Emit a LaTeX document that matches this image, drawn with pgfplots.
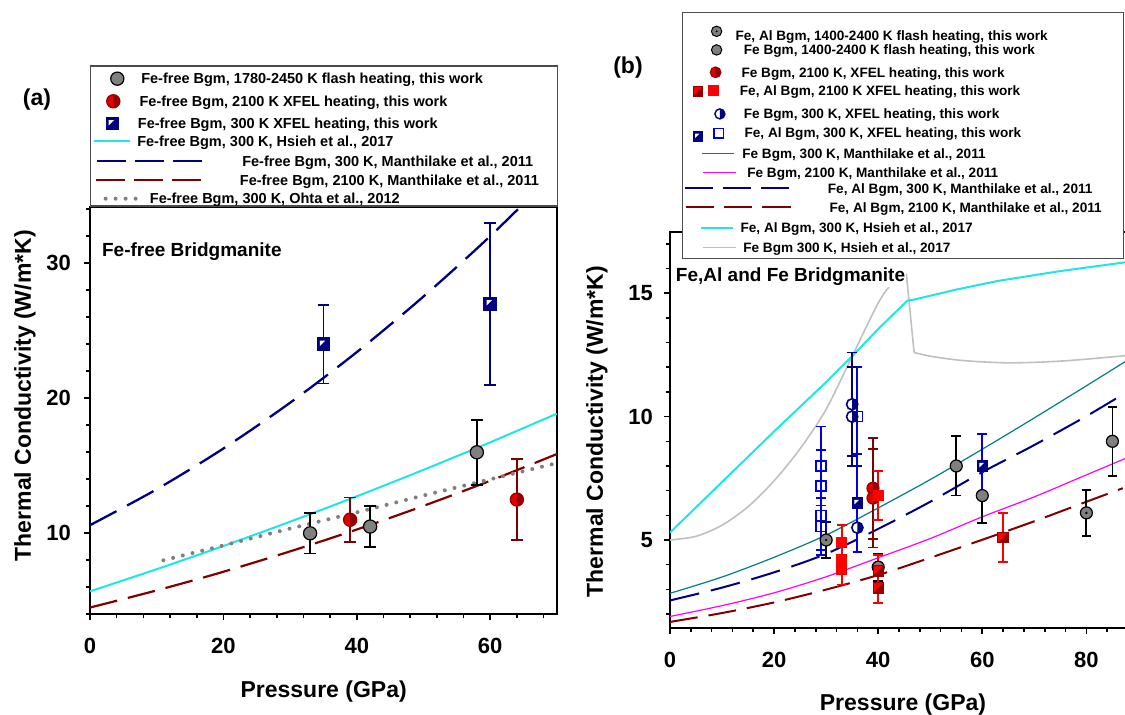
\documentclass[border=0pt]{standalone}
\usepackage{fontspec}
\setmainfont{Liberation Sans}
\usepackage{pgfplots}
\pgfplotsset{compat=1.18}
\definecolor{navy}{RGB}{0,0,128}
\definecolor{maroon}{RGB}{128,0,0}
\definecolor{cyanl}{RGB}{30,230,230}
\definecolor{dotgray}{RGB}{128,128,128}
\definecolor{tealc}{RGB}{0,128,128}
\definecolor{magc}{RGB}{255,0,255}
\definecolor{silverc}{RGB}{192,192,192}
\definecolor{redB}{RGB}{255,0,0}
\definecolor{redC}{RGB}{225,0,0}
\definecolor{redD}{RGB}{150,0,0}
\definecolor{blueB}{RGB}{0,0,230}
\definecolor{markgray}{RGB}{128,128,128}

\pgfdeclareplotmark{hcircred}{%
  \pgfpathcircle{\pgfpointorigin}{\pgfplotmarksize}%
  \pgfsetfillcolor{redC}\pgfusepathqfill
  \pgfpathmoveto{\pgfqpoint{0pt}{\pgfplotmarksize}}%
  \pgfpatharc{90}{-90}{\pgfplotmarksize}\pgfpathclose
  \pgfsetfillcolor{redD}\pgfusepathqfill
  \pgfpathcircle{\pgfpointorigin}{\pgfplotmarksize}%
  \pgfsetstrokecolor{redD}\pgfusepathqstroke}
\pgfdeclareplotmark{hcircnavy}{%
  \pgfpathcircle{\pgfpointorigin}{\pgfplotmarksize}%
  \pgfsetfillcolor{white}\pgfusepathqfill
  \pgfpathmoveto{\pgfqpoint{0pt}{\pgfplotmarksize}}%
  \pgfpatharc{90}{-90}{\pgfplotmarksize}\pgfpathclose
  \pgfsetfillcolor{navy}\pgfusepathqfill
  \pgfpathcircle{\pgfpointorigin}{\pgfplotmarksize}%
  \pgfsetstrokecolor{navy}\pgfusepathqstroke}
\pgfdeclareplotmark{hsqnavy}{%
  \pgfpathrectanglecorners{\pgfqpoint{-\pgfplotmarksize}{-\pgfplotmarksize}}{\pgfqpoint{\pgfplotmarksize}{\pgfplotmarksize}}%
  \pgfsetfillcolor{navy}\pgfusepathqfill
  \pgfpathmoveto{\pgfqpoint{-0.6\pgfplotmarksize}{-0.3\pgfplotmarksize}}%
  \pgfpathlineto{\pgfqpoint{-0.6\pgfplotmarksize}{0.6\pgfplotmarksize}}%
  \pgfpathlineto{\pgfqpoint{0.3\pgfplotmarksize}{0.6\pgfplotmarksize}}\pgfpathclose
  \pgfsetfillcolor{white}\pgfusepathqfill
  \pgfpathrectanglecorners{\pgfqpoint{-\pgfplotmarksize}{-\pgfplotmarksize}}{\pgfqpoint{\pgfplotmarksize}{\pgfplotmarksize}}%
  \pgfsetstrokecolor{navy}\pgfusepathqstroke}
\pgfdeclareplotmark{hsqred}{%
  \pgfpathrectanglecorners{\pgfqpoint{-\pgfplotmarksize}{-\pgfplotmarksize}}{\pgfqpoint{\pgfplotmarksize}{\pgfplotmarksize}}%
  \pgfsetfillcolor{redB}\pgfusepathqfill
  \pgfpathmoveto{\pgfqpoint{-\pgfplotmarksize}{-\pgfplotmarksize}}%
  \pgfpathlineto{\pgfqpoint{\pgfplotmarksize}{-\pgfplotmarksize}}%
  \pgfpathlineto{\pgfqpoint{\pgfplotmarksize}{\pgfplotmarksize}}\pgfpathclose
  \pgfsetfillcolor{redD}\pgfusepathqfill
  \pgfpathrectanglecorners{\pgfqpoint{-\pgfplotmarksize}{-\pgfplotmarksize}}{\pgfqpoint{\pgfplotmarksize}{\pgfplotmarksize}}%
  \pgfsetstrokecolor{redD}\pgfusepathqstroke}
\pgfdeclareplotmark{dotcirc}{%
  \pgfpathcircle{\pgfpointorigin}{\pgfplotmarksize}%
  \pgfsetfillcolor{markgray}\pgfsetstrokecolor{black}\pgfusepathqfillstroke
  \pgfpathcircle{\pgfpointorigin}{0.22\pgfplotmarksize}%
  \pgfsetfillcolor{black}\pgfusepathqfill}

\pgfplotsset{
  eb/.style 2 args={/pgfplots/error bars/y dir=both, /pgfplots/error bars/y explicit,
    /pgfplots/error bars/error bar style={line width=0.9pt, color=#1, solid},
    /pgfplots/error bars/error mark options={rotate=90, mark size=#2, line width=0.9pt, color=#1, solid}},
  common/.style={scale only axis, anchor=south west,
    tick align=outside, tick pos=left,
    major tick length=3pt, minor tick length=2pt,
    tick style={black, line width=0.8pt},
    axis line style={line width=1pt},
    tick label style={font=\fontsize{11}{13}\selectfont\bfseries},
    /pgf/number format/assume math mode=true,
    label style={font=\fontsize{11.5}{13}\selectfont\bfseries},
    xlabel={Pressure (GPa)}, ylabel={Thermal Conductivity (W/m*K)},
    legend cell align=left},
}

\begin{document}
\begin{tikzpicture}
\useasboundingbox (0,0) rectangle (562.5pt,357.5pt);
% ---------------- left panel ----------------
\begin{axis}[common,
  at={(45pt,50.35pt)}, width=233.45pt, height=203.85pt,
  xmin=0, xmax=70, ymin=4, ymax=34.2,
  xtick={0,20,40,60}, ytick={10,20,30},
  minor xtick={4,8,12,16,24,28,32,36,44,48,52,56,64,68},
  minor ytick={4,6,8,12,14,16,18,22,24,26,28,32,34},
  xticklabel shift=5.2pt, yticklabel style={xshift=-3pt},
  xlabel style={at={(axis description cs:0.5005,-0.1898)}, anchor=center},
  ylabel style={at={(axis description cs:-0.1392,0.536)}, anchor=center},
  legend style={at={(0,1)}, anchor=south west, draw=black!70, line width=0.6pt, fill=white,
    inner xsep=0pt, inner ysep=0pt, row sep=0pt, column sep=0pt,
    nodes={inner sep=0pt, text depth=0pt},
    font=\fontsize{7.25}{8}\selectfont\bfseries},
]
\addplot[cyanl, line width=1pt, smooth, forget plot] coordinates {(0,5.70)(10,7.34)(20,9.06)(30,10.86)(40,12.74)(50,14.70)(60,16.74)(70,18.86)};
\addplot[navy, line width=1.15pt, dash pattern=on 15pt off 6pt, smooth, forget plot] coordinates {(0,10.6)(10,13.26)(20,16.28)(30,19.67)(40,23.42)(50,27.54)(60,32.01)(70,36.86)};
\addplot[maroon, line width=1.1pt, dash pattern=on 14pt off 5.5pt, smooth, forget plot] coordinates {(0,4.5)(10,5.77)(20,7.15)(30,8.66)(40,10.28)(50,12.03)(60,13.89)(70,15.87)};
\addplot[dotgray, line width=2pt, line cap=round, dash pattern=on 0pt off 5pt, forget plot] coordinates {(11,8.0)(20,9.1)(30,10.35)(40,11.55)(50,12.8)(60,14.0)(70,15.2)};
\addplot[only marks, mark=*, mark size=3.3pt, mark options={fill=markgray, draw=black, line width=0.6pt}, forget plot, eb={black}{2.9pt}]
  table[x=x, y=y, y error=e, row sep=\\] {x y e\\ 33 10.0 1.5\\ 42 10.5 1.5\\ 58 16.0 2.4\\};
\addplot[only marks, mark=hcircred, mark size=3.3pt, mark options={line width=0.6pt}, forget plot, eb={maroon}{2.9pt}]
  table[x=x, y=y, y error=e, row sep=\\] {x y e\\ 39 11.0 1.65\\ 64 12.5 3.0\\};
\addplot[only marks, mark=hsqnavy, mark size=3pt, mark options={line width=0.8pt}, forget plot, eb={navy}{2.9pt}]
  table[x=x, y=y, y error=e, row sep=\\] {x y e\\ 35 24.0 2.9\\ 60 27.0 6.0\\};
\node[anchor=west, inner sep=0pt, font=\fontsize{9.5}{11}\selectfont\bfseries] at (rel axis cs:0.0251,0.8894) {Fe-free Bridgmanite};
% legend
\addlegendimage{legend image code/.code={\path[draw=none,fill=none] (0pt,-5pt) rectangle (23.35pt,5pt);
  \draw[overlay] plot[only marks, mark=*, mark size=3.3pt, mark options={fill=markgray,draw=black,line width=0.6pt}] coordinates {(13.35pt,-1.35pt)};}}
\addlegendentry{\raisebox{-3.95pt}[0pt][0pt]{\makebox[210.1pt][l]{\hspace{2pt}Fe-free Bgm, 1780-2450 K flash heating, this work}}}
\addlegendimage{legend image code/.code={\path[draw=none,fill=none] (0pt,-5pt) rectangle (23.35pt,5pt);
  \draw[overlay] plot[only marks, mark=hcircred, mark size=3.3pt, mark options={line width=0.6pt}] coordinates {(11.35pt,-2.65pt)};}}
\addlegendentry{\raisebox{-5.25pt}[0pt][0pt]{\makebox[210.1pt][l]{\hspace{1.15pt}Fe-free Bgm, 2100 K XFEL heating, this work}}}
\addlegendimage{legend image code/.code={\path[draw=none,fill=none] (0pt,-5pt) rectangle (23.35pt,5pt);
  \draw[overlay] plot[only marks, mark=hsqnavy, mark size=3pt, mark options={line width=0.8pt}] coordinates {(10.85pt,-3.85pt)};}}
\addlegendentry{\raisebox{-6.45pt}[0pt][0pt]{\makebox[210.1pt][l]{\hspace{0.3pt}Fe-free Bgm, 300 K XFEL heating, this work}}}
\addlegendimage{legend image code/.code={\path[draw=none,fill=none] (0pt,-5pt) rectangle (23.35pt,5pt);
  \draw[overlay, cyanl, line width=1pt] (1.65pt,-2.5pt) -- (19.65pt,-2.5pt);}}
\addlegendentry{\raisebox{-5.1pt}[0pt][0pt]{\makebox[210.1pt][l]{Fe-free Bgm, 300 K, Hsieh et al., 2017}}}
\addlegendimage{legend image code/.code={\path[draw=none,fill=none] (0pt,-5pt) rectangle (23.35pt,5pt);
  \draw[overlay, navy, line width=1pt, dash pattern=on 14.5pt off 4.5pt] (3.35pt,-2.65pt) -- (55.85pt,-2.65pt);}}
\addlegendentry{\raisebox{-5.25pt}[0pt][0pt]{\makebox[210.1pt][l]{\hspace{52.5pt}Fe-free Bgm, 300 K, Manthilake et al., 2011}}}
\addlegendimage{legend image code/.code={\path[draw=none,fill=none] (0pt,-5pt) rectangle (23.35pt,5pt);
  \draw[overlay, maroon, line width=1pt, dash pattern=on 14.5pt off 4.5pt] (2.5pt,-2.15pt) -- (55pt,-2.15pt);}}
\addlegendentry{\raisebox{-4.75pt}[0pt][0pt]{\makebox[210.1pt][l]{\hspace{51.3pt}Fe-free Bgm, 2100 K, Manthilake et al., 2011}}}
\addlegendimage{legend image code/.code={\path[draw=none,fill=none] (0pt,-5pt) rectangle (23.35pt,5pt);
  \draw[overlay, dotgray, line width=2pt, line cap=round, dash pattern=on 0pt off 5pt] (7.5pt,-1.35pt) -- (22.6pt,-1.35pt);}}
\addlegendentry{\raisebox{-3.95pt}[0pt][0pt]{\makebox[210.1pt][l]{\hspace{6.3pt}Fe-free Bgm, 300 K, Ohta et al., 2012}}}
\end{axis}

% ---------------- right panel ----------------
\begin{axis}[common,
  at={(335pt,43.7pt)}, width=229.02pt, height=198pt,
  xmin=0, xmax=88, ymin=1.45, ymax=17.5,
  xtick={0,20,40,60,80}, ytick={5,10,15},
  minor xtick={4,8,12,16,24,28,32,36,44,48,52,56,64,68,72,76,84,88},
  minor ytick={2,3,4,6,7,8,9,11,12,13,14,16,17},
  xticklabel shift=5.8pt, yticklabel style={xshift=-2pt},
  xlabel style={at={(axis description cs:0.5087,-0.1955)}, anchor=center},
  ylabel style={at={(axis description cs:-0.1594,0.4947)}, anchor=center},
  legend style={at={(0.0262,1.5545)}, anchor=north west, draw=black!70, line width=0.6pt, fill=white,
    inner xsep=0pt, inner ysep=3pt, row sep=0pt, column sep=0pt,
    nodes={inner sep=0pt, text depth=0pt},
    font=\fontsize{6.8}{8}\selectfont\bfseries},
]
\addplot[silverc, line width=0.8pt, smooth, forget plot] coordinates {(0,5.0)(5,5.15)(10,5.6)(15,6.35)(20,7.4)(25,8.7)(30,10.3)(35,12.45)(40,14.6)(42.5,15.35)(45.4,15.8)};
\addplot[silverc, line width=0.8pt, forget plot] coordinates {(45.4,15.8)(46.9,12.6)};
\addplot[silverc, line width=0.8pt, smooth, forget plot] coordinates {(46.9,12.6)(50,12.45)(55,12.3)(60,12.22)(65,12.18)(70,12.2)(75,12.25)(80,12.33)(88,12.48)};
\addplot[cyanl, line width=1pt, forget plot] coordinates {(0,5.3)(10,7.35)(20,9.4)(30,11.4)(35,12.45)(40,13.55)(45.6,14.7)(47,14.75)(55,15.15)(63,15.5)(75,15.9)(88,16.27)};
\addplot[tealc, line width=0.6pt, smooth, forget plot] coordinates {(0,2.84)(10,3.5)(20,4.3)(30,5.2)(40,6.3)(50,7.45)(60,8.68)(70,9.95)(80,11.25)(88,12.3)};
\addplot[navy, line width=1pt, dash pattern=on 15pt off 6pt, smooth, forget plot] coordinates {(0,2.55)(10,3.07)(20,3.69)(30,4.44)(40,5.45)(50,6.55)(60,7.75)(70,8.85)(80,10.02)(87,10.9)};
\addplot[magc, line width=0.6pt, smooth, forget plot] coordinates {(0,1.9)(10,2.34)(20,2.86)(30,3.51)(40,4.28)(50,5.06)(60,5.94)(70,6.75)(80,7.64)(88,8.35)};
\addplot[maroon, line width=1pt, dash pattern=on 14pt off 5.5pt, smooth, forget plot] coordinates {(0,1.68)(10,2.04)(20,2.47)(30,2.99)(40,3.58)(50,4.28)(60,5.01)(70,5.76)(80,6.55)(87,7.1)};
% points
\addplot[only marks, mark=*, mark size=3pt, mark options={fill=markgray, draw=black, line width=0.6pt}, forget plot, eb={black}{2.4pt}]
  table[x=x, y=y, y error=e, row sep=\\] {x y e\\ 55 8.0 1.2\\ 60 6.8 1.1\\ 85 9.0 1.4\\ 40 3.9 0.55\\};
\addplot[only marks, mark=dotcirc, mark size=3pt, mark options={line width=0.6pt}, forget plot, eb={black}{2.4pt}]
  table[x=x, y=y, y error=e, row sep=\\] {x y e\\ 30 5.0 0.73\\ 80 6.1 0.93\\};
\addplot[only marks, mark=hcircred, mark size=3pt, mark options={line width=0.6pt}, forget plot, eb={maroon}{2.4pt}]
  table[x=x, y=y, y error=e, row sep=\\] {x y e\\ 39 7.1 2.05\\ 39 6.7 2.0\\};
\addplot[only marks, mark=square*, mark size=2.6pt, mark options={fill=redB, draw=redB, line width=0.5pt}, forget plot, eb={redB}{2.4pt}]
  table[x=x, y=y, y error=e, row sep=\\] {x y e\\ 33 4.9 0.7\\ 33 4.2 0.6\\ 33 3.8 0.6\\ 40 6.8 1.0\\};
\addplot[only marks, mark=hsqred, mark size=2.6pt, mark options={line width=0.5pt}, forget plot, eb={redB}{2.4pt}]
  table[x=x, y=y, y error=e, row sep=\\] {x y e\\ 40 3.75 0.65\\ 40 3.05 0.6\\ 64 5.1 1.0\\};
\addplot[only marks, mark=square, mark size=2.5pt, mark options={draw=blueB, line width=0.8pt}, forget plot, eb={blueB}{2.4pt}]
  table[x=x, y=y, y error=e, row sep=\\] {x y e\\ 29 8.0 1.6\\ 29 7.2 1.45\\ 29 6.0 1.4\\ 29 5.55 1.15\\ 36 10.0 2.0\\};
\addplot[only marks, mark=hcircnavy, mark size=2.8pt, mark options={line width=0.8pt}, forget plot, eb={navy}{2.4pt}]
  table[x=x, y=y, y error=e, row sep=\\] {x y e\\ 35 10.5 2.1\\ 35 10.0 2.0\\ 36 5.5 1.0\\};
\addplot[only marks, mark=hsqnavy, mark size=2.5pt, mark options={line width=0.7pt}, forget plot, eb={blueB}{2.4pt}]
  table[x=x, y=y, y error=e, row sep=\\] {x y e\\ 36 6.5 2.0\\ 60 8.0 1.3\\};
\node[anchor=west, fill=white, inner sep=0.5pt, font=\fontsize{9.5}{11}\selectfont\bfseries] at (rel axis cs:0.0100,0.886) {Fe,Al and Fe Bridgmanite};
% legend
\addlegendimage{legend image code/.code={\path[draw=none,fill=none] (0pt,-4.875pt) rectangle (26.5pt,4.875pt);
  \draw[overlay] plot[only marks, mark=dotcirc, mark size=2.6pt, mark options={line width=0.5pt}] coordinates {(17pt,-1.48pt)};}}
\addlegendentry{\raisebox{-6.06pt}[0pt][0pt]{\makebox[194pt][l]{Fe, Al Bgm, 1400-2400 K flash heating, this work}}}
\addlegendimage{legend image code/.code={\path[draw=none,fill=none] (0pt,-4.875pt) rectangle (26.5pt,4.875pt);
  \draw[overlay] plot[only marks, mark=*, mark size=2.6pt, mark options={fill=markgray,draw=black,line width=0.5pt}] coordinates {(17pt,-1.03pt)};}}
\addlegendentry{\raisebox{-3.46pt}[0pt][0pt]{\makebox[194pt][l]{\hspace{4.15pt}Fe Bgm, 1400-2400 K flash heating, this work}}}
\addlegendimage{legend image code/.code={\path[draw=none,fill=none] (0pt,-4.875pt) rectangle (26.5pt,4.875pt);
  \draw[overlay] plot[only marks, mark=hcircred, mark size=2.7pt, mark options={line width=0.5pt}] coordinates {(16.5pt,-2.48pt)};}}
\addlegendentry{\raisebox{-4.91pt}[0pt][0pt]{\makebox[194pt][l]{\hspace{3pt}Fe Bgm, 2100 K, XFEL heating, this work}}}
\addlegendimage{legend image code/.code={\path[draw=none,fill=none] (0pt,-4.875pt) rectangle (26.5pt,4.875pt);
  \draw[overlay] plot[only marks, mark=hsqred, mark size=2.4pt, mark options={line width=0.5pt}] coordinates {(7.65pt,-2.23pt)};
  \draw[overlay] plot[only marks, mark=square*, mark size=2.5pt, mark options={fill=redB,draw=redB,line width=0.5pt}] coordinates {(15.65pt,-1.88pt)};}}
\addlegendentry{\raisebox{-4.31pt}[0pt][0pt]{\makebox[194pt][l]{\hspace{2.15pt}Fe, Al Bgm, 2100 K XFEL heating, this work}}}
\addlegendimage{legend image code/.code={\path[draw=none,fill=none] (0pt,-4.875pt) rectangle (26.5pt,4.875pt);
  \draw[overlay] plot[only marks, mark=hcircnavy, mark size=2.5pt, mark options={line width=0.7pt}] coordinates {(18.65pt,-3.78pt)};}}
\addlegendentry{\raisebox{-6.21pt}[0pt][0pt]{\makebox[194pt][l]{\hspace{4.15pt}Fe Bgm, 300 K, XFEL heating, this work}}}
\addlegendimage{legend image code/.code={\path[draw=none,fill=none] (0pt,-4.875pt) rectangle (26.5pt,4.875pt);
  \draw[overlay] plot[only marks, mark=hsqnavy, mark size=2.4pt, mark options={line width=0.6pt}] coordinates {(7.65pt,-5.38pt)};
  \draw[overlay] plot[only marks, mark=square, mark size=2.4pt, mark options={draw=blueB,line width=0.7pt}] coordinates {(18.15pt,-3.73pt)};}}
\addlegendentry{\raisebox{-5.66pt}[0pt][0pt]{\makebox[194pt][l]{\hspace{4.5pt}Fe, Al Bgm, 300 K, XFEL heating, this work}}}
\addlegendimage{legend image code/.code={\path[draw=none,fill=none] (0pt,-4.875pt) rectangle (26.5pt,4.875pt);
  \draw[overlay, tealc, line width=0.6pt] (9.85pt,-3.98pt) -- (25.65pt,-3.98pt);}}
\addlegendentry{\raisebox{-6.41pt}[0pt][0pt]{\makebox[194pt][l]{\hspace{3.35pt}Fe Bgm, 300 K, Manthilake et al., 2011}}}
\addlegendimage{legend image code/.code={\path[draw=none,fill=none] (0pt,-4.875pt) rectangle (26.5pt,4.875pt);
  \draw[overlay, magc, line width=0.6pt] (10.35pt,-3.73pt) -- (26.5pt,-3.73pt);}}
\addlegendentry{\raisebox{-6.16pt}[0pt][0pt]{\makebox[194pt][l]{\hspace{5.85pt}Fe Bgm, 2100 K, Manthilake et al., 2011}}}
\addlegendimage{legend image code/.code={\path[draw=none,fill=none] (0pt,-4.875pt) rectangle (26.5pt,4.875pt);
  \draw[overlay, navy, line width=1pt, dash pattern=on 14.2pt off 5pt] (1pt,-1.98pt) -- (53.15pt,-1.98pt);}}
\addlegendentry{\raisebox{-4.41pt}[0pt][0pt]{\makebox[194pt][l]{\hspace{46.15pt}Fe, Al Bgm, 300 K, Manthilake et al., 2011}}}
\addlegendimage{legend image code/.code={\path[draw=none,fill=none] (0pt,-4.875pt) rectangle (26.5pt,4.875pt);
  \draw[overlay, maroon, line width=1pt, dash pattern=on 14.2pt off 5pt] (1.5pt,-1.73pt) -- (54pt,-1.73pt);}}
\addlegendentry{\raisebox{-4.16pt}[0pt][0pt]{\makebox[194pt][l]{\hspace{47pt}Fe, Al Bgm, 2100 K, Manthilake et al., 2011}}}
\addlegendimage{legend image code/.code={\path[draw=none,fill=none] (0pt,-4.875pt) rectangle (26.5pt,4.875pt);
  \draw[overlay, cyanl, line width=1pt] (9pt,-2.28pt) -- (25.35pt,-2.28pt);}}
\addlegendentry{\raisebox{-4.71pt}[0pt][0pt]{\makebox[194pt][l]{\hspace{2.5pt}Fe, Al Bgm, 300 K, Hsieh et al., 2017}}}
\addlegendimage{legend image code/.code={\path[draw=none,fill=none] (0pt,-4.875pt) rectangle (26.5pt,4.875pt);
  \draw[overlay, silverc, line width=0.8pt] (10.35pt,-2.23pt) -- (26.5pt,-2.23pt);}}
\addlegendentry{\raisebox{-4.66pt}[0pt][0pt]{\makebox[194pt][l]{\hspace{3.85pt}Fe Bgm 300 K, Hsieh et al., 2017}}}
\end{axis}
\node[font=\fontsize{11.5}{13}\selectfont\bfseries] at (18.5pt,307.5pt) {(a)};
\node[font=\fontsize{11.5}{13}\selectfont\bfseries] at (314pt,323.5pt) {(b)};
\end{tikzpicture}
\end{document}
